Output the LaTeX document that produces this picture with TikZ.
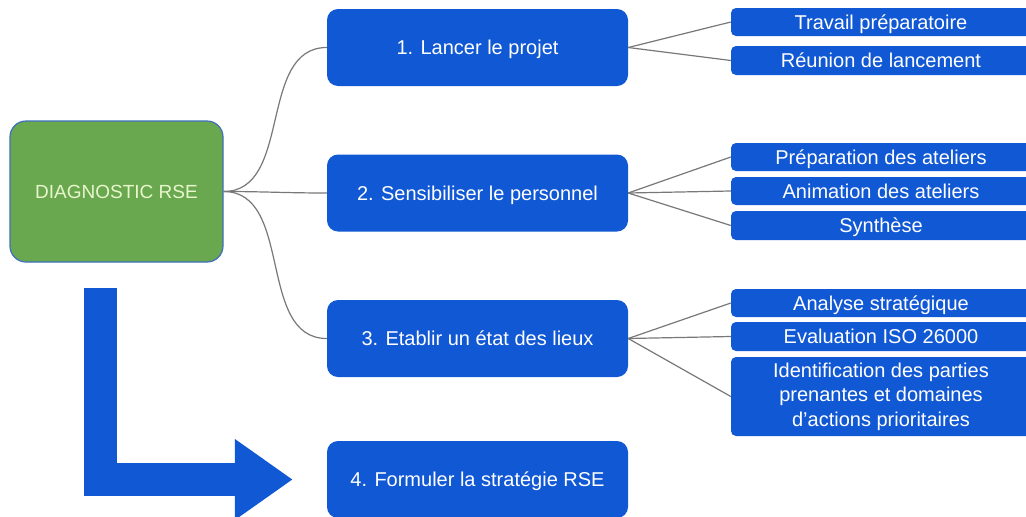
\documentclass[tikz,border=0pt]{standalone}
\usepackage{fontspec}
\setmainfont{Liberation Sans}
\usetikzlibrary{arrows.meta}
\definecolor{stepblue}{RGB}{17,88,212}
\definecolor{rootgreen}{RGB}{106,168,79}
\definecolor{rootline}{RGB}{62,112,190}
\definecolor{roottext}{RGB}{232,246,206}
\definecolor{linkgray}{RGB}{120,120,120}
\tikzset{
  rootbox/.style={rectangle,rounded corners=16pt,fill=rootgreen,draw=rootline,line width=1.2pt,
    minimum width=213pt,minimum height=141pt,inner sep=0pt,text=roottext,font=\fontsize{19}{23}\selectfont},
  stepbox/.style={rectangle,rounded corners=11pt,fill=stepblue,text=white,minimum width=301pt,
    minimum height=77pt,inner sep=0pt,text height=18pt,text depth=3.6pt,font=\fontsize{20}{24}\selectfont},
  leafbox/.style={rectangle,rounded corners=5pt,fill=stepblue,text=white,minimum width=300pt,
    inner sep=0pt,align=center,font=\fontsize{20}{24.5}\selectfont},
  oneline/.style={text height=18pt,text depth=3.6pt},
  link/.style={draw=linkgray,line width=1.2pt},
  bigarrow/.style={draw=stepblue,line width=33pt,line join=miter,-{Triangle[length=58pt,width=77pt]}}
}

\begin{document}
\begin{tikzpicture}[x=1pt,y=-1pt]
  \useasboundingbox (0,0) rectangle (1026,517);
  \clip (0,0) rectangle (1026,517);
  \fill[white] (0,0) rectangle (1026,517);

  \node[rootbox] (diag) at (116.5,191.5) {DIAGNOSTIC RSE};

  \node[stepbox] (s1) at (477.5,47.5) {1. Lancer le projet};
  \node[stepbox] (s2) at (477.5,193) {2. Sensibiliser le personnel};
  \node[stepbox] (s3) at (477.5,338.5) {3. Etablir un état des lieux};
  \node[stepbox] (s4) at (477.5,479.5) {4. Formuler la stratégie RSE};

  \node[leafbox,oneline,minimum height=28pt] (l1) at (881,22) {Travail préparatoire};
  \node[leafbox,oneline,minimum height=29pt] (l2) at (881,60.5) {Réunion de lancement};
  \node[leafbox,oneline,minimum height=28pt] (l3) at (881,157) {Préparation des ateliers};
  \node[leafbox,oneline,minimum height=28pt] (l4) at (881,191) {Animation des ateliers};
  \node[leafbox,oneline,minimum height=29pt] (l5) at (881,225.5) {Synthèse};
  \node[leafbox,oneline,minimum height=28pt] (l6) at (881,303) {Analyse stratégique};
  \node[leafbox,oneline,minimum height=29pt] (l7) at (881,336.5) {Evaluation ISO 26000};
  \node[leafbox,minimum height=79pt] (l8) at (881,396.5) {Identification des parties\\prenantes et domaines\\d’actions prioritaires};

  \foreach \to in {s1, s2, s3}
    \draw[link] (diag.east) to[out=0,in=180] (\to.west);
  \foreach \from/\to in {s1/l1, s1/l2, s2/l3, s2/l4, s2/l5, s3/l6, s3/l7, s3/l8}
    \draw[link] (\from.east) -- (\to.west);

  \coordinate (bend) at (100.5,288);
  \draw[bigarrow] (bend) |- ([xshift=-34pt]s4.west);
\end{tikzpicture}
\end{document}
